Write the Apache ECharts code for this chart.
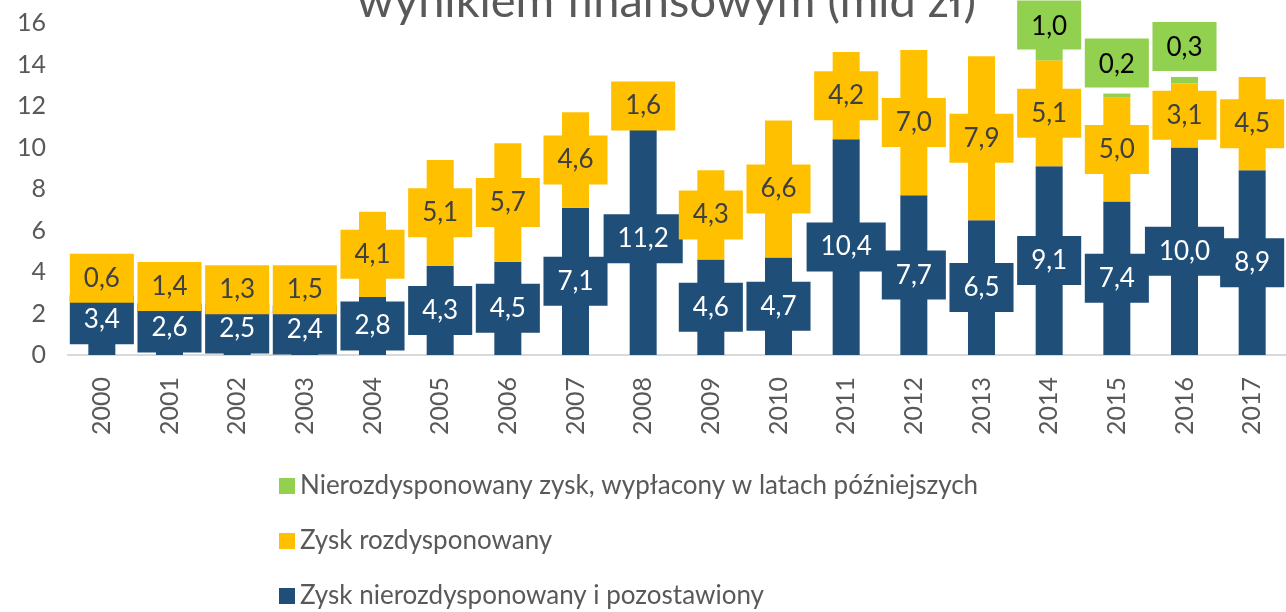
<!DOCTYPE html>
<html>
<head>
<meta charset="utf-8">
<script src="https://cdn.jsdelivr.net/npm/echarts@6/dist/echarts.min.js"></script>
<style>
  html, body { margin: 0; padding: 0; background: #fff; }
  #chart { width: 1286px; height: 612px; }
</style>
</head>
<body>
<div id="chart"></div>
<script>
// wykres słupkowy skumulowany - zysk vs wynik finansowy
var lata = ["2000", "2001", "2002", "2003", "2004", "2005", "2006", "2007", "2008",
  "2009", "2010", "2011", "2012", "2013", "2014", "2015", "2016", "2017"];
var pozostawiony = [3.4, 2.6, 2.5, 2.4, 2.8, 4.3, 4.5, 7.1, 11.2, 4.6, 4.7, 10.4, 7.7, 6.5, 9.1, 7.4, 10.0, 8.9];
var rozdysponowany = [0.6, 1.4, 1.3, 1.5, 4.1, 5.1, 5.7, 4.6, 1.6, 4.3, 6.6, 4.2, 7.0, 7.9, 5.1, 5.0, 3.1, 4.5];
var wyplaconyPozniej = [null, null, null, null, null, null, null, null, null, null, null, null, null, null, 1.0, 0.2, 0.3, null];
var osY = [0, 2, 4, 6, 8, 10, 12, 14, 16];

var nazwy = [
  "Zysk nierozdysponowany i pozostawiony",
  "Zysk rozdysponowany",
  "Nierozdysponowany zysk, wypłacony w latach późniejszych"
];

(function() {
  var myChart = echarts.init(document.getElementById("chart"));
  var font = "Lato, 'Open Sans', sans-serif";

  function fmt(p) {
    if (p.value == null) return "";
    return p.value.toFixed(1).replace(".", ",");
  }

  function etykieta(bg, kolor, pos) {
    return {
      show: true,
      position: pos,
      distance: 6,
      formatter: fmt,
      fontFamily: font,
      fontSize: 26,
      color: kolor,
      backgroundColor: bg,
      padding: [13, 14, 10, 14]
    };
  }

  // etykieta 2014 w oryginale nachodzi na słupek
  var zielone = wyplaconyPozniej.map(function(v, i) {
    if (lata[i] === "2014") return { value: v, label: { offset: [0, 16] } };
    return v;
  });

  var option = {
    animation: false,
    title: {
      text: "wynikiem finansowym (mld zł)",
      left: 352,
      top: -26,
      textStyle: {
        fontFamily: font,
        fontSize: 47,
        lineHeight: 46,
        fontWeight: "normal",
        color: "#595959"
      }
    },
    grid: {
      left: 68,
      right: -4,
      top: 23,
      bottom: 257
    },
    legend: {
      orient: "vertical",
      left: 274,
      top: 466,
      height: 146,
      itemWidth: 16,
      itemHeight: 16,
      itemGap: 25,
      icon: "rect",
      data: [nazwy[2], nazwy[1], nazwy[0]],
      textStyle: {
        fontFamily: font,
        fontSize: 26,
        color: "#595959",
        lineHeight: 30
      }
    },
    xAxis: {
      type: "category",
      data: lata,
      axisLine: { lineStyle: { color: "#d9d9d9", width: 2 } },
      axisTick: { show: false },
      axisLabel: {
        rotate: 90,
        margin: 22,
        fontFamily: font,
        fontSize: 25,
        color: "#595959"
      }
    },
    yAxis: {
      type: "value",
      min: osY[0],
      max: osY[osY.length - 1],
      interval: 2,
      splitLine: { show: false },
      axisLine: { show: false },
      axisTick: { show: false },
      axisLabel: {
        margin: 22,
        fontFamily: font,
        fontSize: 25,
        color: "#595959"
      }
    },
    series: [
      {
        name: nazwy[0],
        type: "bar",
        stack: "zysk",
        barWidth: 27,
        itemStyle: { color: "#1f4e79" },
        label: etykieta("#1f4e79", "#ffffff", "inside"),
        data: pozostawiony
      },
      {
        name: nazwy[1],
        type: "bar",
        stack: "zysk",
        itemStyle: { color: "#ffc000" },
        label: etykieta("#ffc000", "#404040", "inside"),
        data: rozdysponowany
      },
      {
        name: nazwy[2],
        type: "bar",
        stack: "zysk",
        itemStyle: { color: "#92d050" },
        label: etykieta("#92d050", "#000000", "top"),
        data: zielone
      }
    ]
  };

  myChart.setOption(option);
})();
</script>
</body>
</html>
